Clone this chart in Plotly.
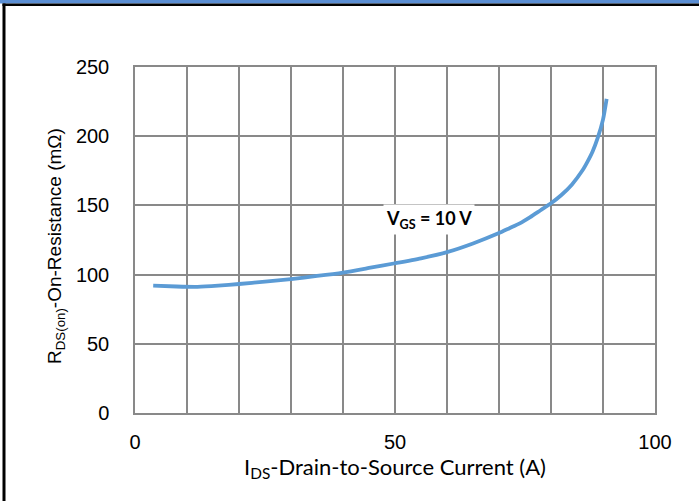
import plotly.graph_objects as go

# Data
ids_current = [3.5, 8, 12, 16, 20, 25, 30, 35, 40, 45, 50, 55, 60, 65, 70, 72, 74, 76, 78, 80, 82, 84, 86, 87, 88, 89, 90, 90.7]
rds_on = [92, 91.4, 91.2, 92, 93.2, 95, 96.8, 99, 101.5, 104.8, 108.2, 111.8, 116.2, 122.5, 130, 133.5, 137, 141.5, 146.5, 151.5, 157.5, 165, 175, 181.5, 189, 199, 212, 227]
x_ticks = [0, 50, 100]
y_ticks = [0, 50, 100, 150, 200, 250]
x_title = "I<sub>DS</sub>-Drain-to-Source Current (A)"
y_title = "R<sub>DS(on)</sub>-On-Resistance (mΩ)"
annotation_text = "V<sub>GS</sub> = 10 V"
annotation_pos = (56.5, 139.5)

W, H = 699, 501
L, R, T, B = 135, 44, 67, 88
pw, ph = W - L - R, H - T - B

def px(x):
    return (x - L) / pw

def py(y):
    return (H - B - y) / ph

fig = go.Figure()
fig.add_trace(go.Scatter(
    x=ids_current, y=rds_on, mode="lines",
    line=dict(color="#5B9BD5", width=3.8, shape="spline", smoothing=0.6),
    hoverinfo="skip", showlegend=False,
))

grid = "#898989"
tickfont = dict(family="Arial", size=20, color="#000")

fig.update_xaxes(
    range=[0, 100], tickvals=x_ticks,
    showgrid=True, gridcolor=grid, gridwidth=1.5,
    minor=dict(dtick=10, showgrid=True, gridcolor=grid, gridwidth=1.5),
    showline=True, linecolor=grid, linewidth=1.5, mirror=True,
    zeroline=False, ticks="", ticklabelstandoff=10,
    tickfont=tickfont,
    title=dict(text=x_title, font=dict(family="Lato", size=22, color="#000"), standoff=6),
)
fig.update_yaxes(
    range=[0, 250], tickvals=y_ticks,
    showgrid=True, gridcolor=grid, gridwidth=1.5,
    showline=True, linecolor=grid, linewidth=1.5, mirror=True,
    zeroline=False, ticks="", ticklabelstandoff=20,
    tickfont=tickfont,
)

fig.add_annotation(
    xref="paper", yref="paper", x=px(56), y=py(246), text=y_title,
    xanchor="center", yanchor="middle",
    textangle=-90, showarrow=False,
    font=dict(family="Arial", size=19, color="#000"),
)

fig.add_annotation(
    x=annotation_pos[0], y=annotation_pos[1], text=annotation_text, showarrow=False,
    font=dict(family="Lato", size=18, color="#000", weight="bold"),
    bgcolor="white", borderpad=2,
)

# Frame: blue top band, black top and left borders
fig.add_shape(type="rect", xref="paper", yref="paper",
              x0=px(0), x1=px(W), y0=py(0), y1=py(3.5),
              fillcolor="#5A8ED3", line=dict(width=0), layer="above")
fig.add_shape(type="rect", xref="paper", yref="paper",
              x0=px(2.5), x1=px(W), y0=py(3.5), y1=py(6),
              fillcolor="#000", line=dict(width=0), layer="above")
fig.add_shape(type="rect", xref="paper", yref="paper",
              x0=px(2.5), x1=px(5.5), y0=py(3.5), y1=py(H),
              fillcolor="#000", line=dict(width=0), layer="above")

fig.update_layout(
    width=W, height=H,
    margin=dict(l=L, r=R, t=T, b=B),
    paper_bgcolor="white", plot_bgcolor="white",
)

fig.write_html("out.html", config={"displayModeBar": False},
               post_script="document.body.style.margin='0';document.body.style.overflow='hidden';")
